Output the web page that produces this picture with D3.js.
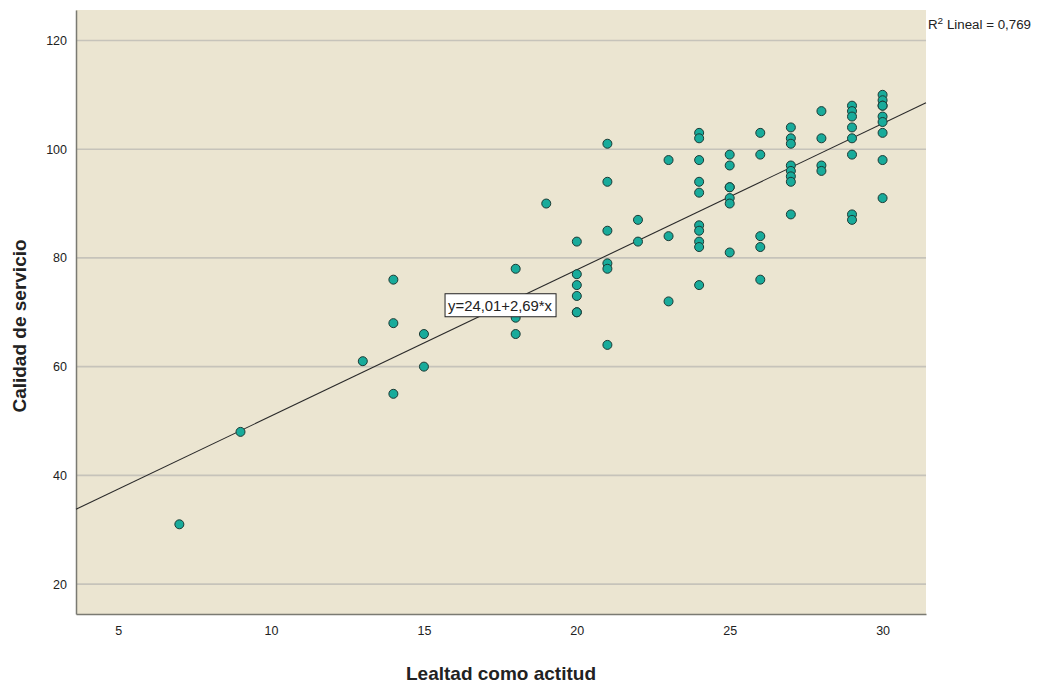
<!DOCTYPE html>
<html>
<head>
<meta charset="utf-8">
<script src="https://cdn.jsdelivr.net/npm/d3@7"></script>
<style>
  body { margin: 0; background: #fff; }
  svg text { font-family: "Liberation Sans", Arial, sans-serif; fill: #222; }
</style>
</head>
<body>
<svg id="chart" width="1037" height="683"></svg>
<script>
// ── Data ─────────────────────────────────────────────────────────────────────
const xTicks = [5, 10, 15, 20, 25, 30];
const yTicks = [20, 40, 60, 80, 100, 120];

// one entry per column: lealtad value and the calidad values
const lealtad = [7, 9, 13, 14, 15, 18, 19, 20, 21, 22, 23, 24, 25, 26, 27, 28, 29, 30];
const calidad = [
  [31],
  [48],
  [61],
  [76, 68, 55],
  [66, 60],
  [78, 72, 69, 66],
  [90],
  [83, 77, 75, 73, 70, 70],
  [101, 94, 85, 79, 78, 64],
  [87, 83],
  [98, 84, 72],
  [103, 102, 98, 94, 92, 86, 85, 83, 82, 75],
  [99, 97, 93, 93, 91, 90, 81],
  [103, 99, 84, 82, 76],
  [104, 102, 101, 97, 96, 95, 94, 88],
  [107, 102, 97, 96],
  [108, 107, 106, 104, 102, 99, 88, 87],
  [110, 109, 108, 108, 106, 105, 103, 98, 91]
];
const intercept = 24.01, slope = 2.69;
const eqLabel = "y=24,01+2,69*x";
const r2Label = "0,769";

const points = [];
lealtad.forEach((x, i) => calidad[i].forEach(y => points.push({ x, y })));

// ── Setup ────────────────────────────────────────────────────────────────────
const svg = d3.select('#chart');
const plot = { left: 76, top: 10, right: 926, bottom: 614 };

const x = d3.scaleLinear().domain([3.62, 31.42]).range([plot.left, plot.right]);
const y = d3.scaleLinear().domain([14.5, 125.6]).range([plot.bottom, plot.top]);

// background
svg.append('rect')
  .attr('x', plot.left).attr('y', plot.top)
  .attr('width', plot.right - plot.left).attr('height', plot.bottom - plot.top)
  .attr('fill', '#ebe5d1');

// gridlines
svg.append('g').selectAll('line')
  .data(yTicks).enter().append('line')
  .attr('x1', plot.left).attr('x2', plot.right)
  .attr('y1', d => y(d)).attr('y2', d => y(d))
  .attr('stroke', '#c6c3ba').attr('stroke-width', 1.6);

// axes
const xAxis = svg.append('g')
  .attr('transform', `translate(0,${plot.bottom})`)
  .call(d3.axisBottom(x).tickValues(xTicks).tickSize(0).tickPadding(12));
const yAxis = svg.append('g')
  .attr('transform', `translate(${plot.left},0)`)
  .call(d3.axisLeft(y).tickValues(yTicks).tickSize(0).tickPadding(9));

[xAxis, yAxis].forEach(a => {
  a.select('.domain').attr('stroke', '#7a7a72').attr('stroke-width', 1.5);
  a.selectAll('text').attr('font-size', 12.5).attr('fill', '#222')
    .attr('font-family', '"Liberation Sans", Arial, sans-serif');
});

// regression line
svg.append('line')
  .attr('x1', x(3.62)).attr('y1', y(intercept + slope * 3.62))
  .attr('x2', x(31.42)).attr('y2', y(intercept + slope * 31.42))
  .attr('stroke', '#2a2a2a').attr('stroke-width', 1.1);

// points
svg.append('g').selectAll('circle')
  .data(points).enter().append('circle')
  .attr('cx', d => x(d.x)).attr('cy', d => y(d.y))
  .attr('r', 4.5)
  .attr('fill', '#18ab9b')
  .attr('stroke', '#1c3a34').attr('stroke-width', 1);

// equation label
const lab = svg.append('g').attr('transform', `translate(${x(15.69)},${y(71.2)})`);
lab.append('rect')
  .attr('x', 0).attr('y', -12).attr('width', 111).attr('height', 23)
  .attr('fill', '#fff').attr('stroke', '#222').attr('stroke-width', 1);
lab.append('text')
  .attr('x', 3).attr('y', 5).attr('font-size', 14)
  .attr('textLength', 104).attr('lengthAdjust', 'spacingAndGlyphs')
  .text(eqLabel);

// R² label
const r2 = svg.append('text').attr('x', 928).attr('y', 29).attr('font-size', 12)
  .attr('textLength', 103).attr('lengthAdjust', 'spacingAndGlyphs');
r2.append('tspan').text('R');
r2.append('tspan').attr('dy', -5).attr('font-size', 9).text('2');
r2.append('tspan').attr('dy', 5).text(' Lineal = ' + r2Label);

// axis titles
svg.append('text')
  .attr('x', 501).attr('y', 680)
  .attr('text-anchor', 'middle').attr('font-size', 19).attr('font-weight', 'bold')
  .text('Lealtad como actitud');
svg.append('text')
  .attr('transform', `translate(26,326) rotate(-90)`)
  .attr('text-anchor', 'middle').attr('font-size', 19).attr('font-weight', 'bold')
  .text('Calidad de servicio');
</script>
</body>
</html>
